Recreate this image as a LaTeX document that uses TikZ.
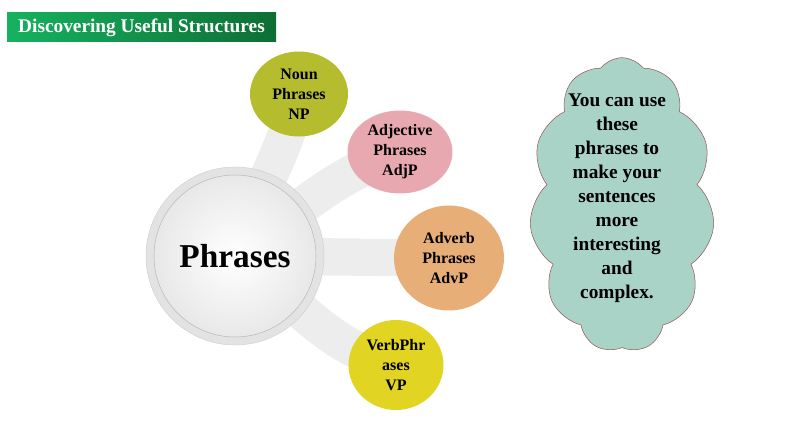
\documentclass[tikz,border=0pt]{standalone}
\usepackage{fontspec}
\setmainfont{Liberation Serif}
\usepackage{tikz}
\usetikzlibrary{shapes.geometric, shapes.symbols, positioning, backgrounds}
\definecolor{cBannerL}{RGB}{22,178,96}
\definecolor{cBannerR}{RGB}{14,110,52}
\definecolor{cNoun}{RGB}{181,189,46}
\definecolor{cAdj}{RGB}{232,168,176}
\definecolor{cAdv}{RGB}{232,174,120}
\definecolor{cVerb}{RGB}{226,212,34}
\definecolor{cCloud}{RGB}{169,211,198}
\definecolor{cCloudLine}{RGB}{150,90,90}
\definecolor{cBand}{RGB}{237,237,237}
\tikzset{
	banner/.style   ={rectangle, minimum width=201.75pt, minimum height=21.75pt, left color=cBannerL, right color=cBannerR, text=white, font=\bfseries\fontsize{14.5}{16}\selectfont},
	ring/.style     ={circle, minimum size=133.5pt, fill=gray!22, draw=gray!35},
	hub/.style      ={circle, minimum size=121.5pt, inner color=white, outer color=gray!18, draw=gray!55, font=\bfseries\fontsize{25}{28}\selectfont},
	topic/.style    ={ellipse, inner sep=0pt, align=center, font=\bfseries\fontsize{12}{15}\selectfont},
	band/.style     ={cBand, line width=28pt},
	cloudbox/.style ={cloud, cloud puffs=11, cloud puff arc=105, cloud ignores aspect, minimum width=138.75pt, minimum height=221pt, fill=cCloud, draw=cCloudLine, thin},
}
\begin{document}
\begin{tikzpicture}[x=0.75pt, y=0.75pt]
	\useasboundingbox (0,0) rectangle (794,447);
	% title
	\node[banner] (title) at (141.5,419.5) {Discovering Useful Structures};
	% centre
	\node[ring] (ring) at (235,191) {};
	\node[hub] (hub) at (235,191) {Phrases};
	% the four kinds
	\node[topic, fill=cNoun, minimum width=73.5pt, minimum height=63.75pt] (np) at (299,353) {Noun\\Phrases\\NP};
	\node[topic, fill=cAdj, minimum width=78.75pt, minimum height=62.25pt] (adjp) at (400,295) {Adjective\\Phrases\\AdjP};
	\node[topic, fill=cAdv, minimum width=82.5pt, minimum height=78.75pt] (advp) at (449,189) {Adverb\\Phrases\\AdvP};
	\node[topic, fill=cVerb, minimum width=71.25pt, minimum height=67.5pt] (vp) at (396,82) {VerbPhr\\ases\\VP};
	% bands behind
	\begin{scope}[on background layer]
		\draw[band] (hub.center) to[out=70, in=-105] (np.center);
		\draw[band] (hub.center) to[out=35, in=200] (adjp.center);
		\draw[band] (hub.center) -- (advp.center);
		\draw[band] (hub.center) to[out=-35, in=165] (vp.center);
	\end{scope}
	% note
	\node[cloudbox] (tip) at (622,242) {};
	\node[align=center, font=\bfseries\fontsize{14.5}{18}\selectfont] (tiptext) at (617,249) {You can use\\these\\phrases to\\make your\\sentences\\more\\interesting\\and\\complex.};
\end{tikzpicture}
\end{document}
